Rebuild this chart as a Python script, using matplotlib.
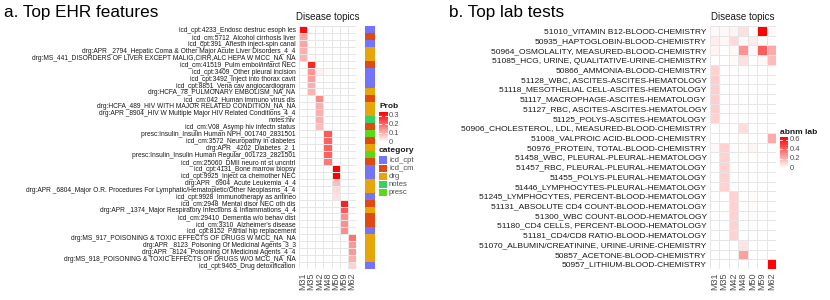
import numpy as np
import matplotlib
matplotlib.use('Agg')
import matplotlib.pyplot as plt
from matplotlib.colors import LinearSegmentedColormap, ListedColormap
from matplotlib.patches import Rectangle

plt.rcParams['font.family'] = ['Liberation Sans', 'DejaVu Sans']

# ---------------- data ----------------
topics = ['M31', 'M35', 'M42', 'M48', 'M50', 'M59', 'M62']

ehr_features = [
    'icd_cpt:4233_Endosc destruc esoph les',
    'icd_cm:5712_Alcohol cirrhosis liver',
    'icd_cpt:391_Anesth inject-spin canal',
    'drg:APR _2794_Hepatic Coma & Other Major Acute Liver Disorders_4_4',
    'drg:MS_441_DISORDERS OF LIVER EXCEPT MALIG,CIRR,ALC HEPA W MCC_NA_NA',
    'icd_cm:41519_Pulm embol/infarct NEC',
    'icd_cpt:3409_Other pleural incision',
    'icd_cpt:3492_Inject into thorax cavit',
    'icd_cpt:8851_Vena cav angiocardiogram',
    'drg:HCFA_78_PULMONARY EMBOLISM_NA_NA',
    'icd_cm:042_Human immuno virus dis',
    'drg:HCFA_489_HIV WITH MAJOR RELATED CONDITION_NA_NA',
    'drg:APR _8904_HIV W Multiple Major HIV Related Conditions_4_4',
    'notes:hiv',
    'icd_cm:V08_Asymp hiv infectn status',
    'presc:Insulin_Insulin Human NPH_001740_2831501',
    'icd_cm:3572_Neuropathy in diabetes',
    'drg:APR _4202_Diabetes_2_1',
    'presc:Insulin_Insulin Human Regular_001723_2821501',
    'icd_cm:25060_DMII neuro nt st uncntrl',
    'icd_cpt:4131_Bone marrow biopsy',
    'icd_cpt:9925_Inject ca chemother NEC',
    'drg:APR _6904_Acute Leukemia_4_4',
    'drg:APR _6804_Major O.R. Procedures For Lymphatic/Hematopietic/Other Neoplasms_4_4',
    'icd_cpt:9928_Immunotherapy as antineo',
    'icd_cm:2948_Mental disor NEC oth dis',
    'drg:APR _1374_Major Respiratory Infections & Inflammations_4_4',
    'icd_cm:29410_Dementia w/o behav dist',
    "icd_cm:3310_Alzheimer's disease",
    'icd_cpt:8152_Partial hip replacement',
    'drg:MS_917_POISONING & TOXIC EFFECTS OF DRUGS W MCC_NA_NA',
    'drg:APR _8123_Poisoning Of Medicinal Agents_3_3',
    'drg:APR _8124_Poisoning Of Medicinal Agents_4_4',
    'drg:MS_918_POISONING & TOXIC EFFECTS OF DRUGS W/O MCC_NA_NA',
    'icd_cpt:9465_Drug detoxification',
]

ehr_category = [
    'icd_cpt', 'icd_cm', 'icd_cpt', 'drg', 'drg',
    'icd_cm', 'icd_cpt', 'icd_cpt', 'icd_cpt', 'drg',
    'icd_cm', 'drg', 'drg', 'notes', 'icd_cm',
    'presc', 'icd_cm', 'drg', 'presc', 'icd_cm',
    'icd_cpt', 'icd_cpt', 'drg', 'drg', 'icd_cpt',
    'icd_cm', 'drg', 'icd_cm', 'icd_cm', 'icd_cpt',
    'drg', 'drg', 'drg', 'drg', 'icd_cpt',
]

ehr_prob = [
    [0.33, 0, 0, 0, 0, 0, 0],
    [0.12, 0, 0, 0, 0, 0, 0],
    [0.12, 0, 0, 0, 0, 0, 0],
    [0.11, 0, 0, 0, 0, 0, 0],
    [0.10, 0, 0, 0, 0, 0, 0],
    [0, 0.29, 0, 0, 0, 0, 0],
    [0, 0.14, 0.02, 0.005, 0.005, 0.005, 0],
    [0, 0.13, 0, 0, 0, 0, 0],
    [0, 0.11, 0, 0, 0, 0, 0],
    [0, 0.10, 0, 0, 0, 0, 0],
    [0, 0, 0.16, 0, 0, 0, 0],
    [0, 0, 0.11, 0, 0, 0, 0],
    [0, 0, 0.11, 0, 0, 0, 0],
    [0, 0, 0.11, 0, 0, 0, 0],
    [0, 0, 0.09, 0, 0, 0, 0],
    [0, 0, 0, 0.22, 0, 0, 0],
    [0, 0, 0, 0.21, 0, 0, 0],
    [0, 0, 0, 0.21, 0, 0, 0],
    [0, 0, 0, 0.21, 0, 0, 0],
    [0, 0, 0, 0.18, 0, 0, 0],
    [0, 0, 0, 0, 0.34, 0, 0],
    [0, 0, 0, 0, 0.34, 0, 0],
    [0, 0, 0, 0, 0.09, 0, 0],
    [0, 0, 0, 0, 0.05, 0, 0],
    [0, 0, 0, 0, 0.04, 0, 0],
    [0, 0, 0, 0, 0, 0.30, 0],
    [0, 0, 0, 0, 0, 0.22, 0],
    [0, 0, 0, 0, 0, 0.15, 0],
    [0, 0, 0, 0, 0, 0.15, 0],
    [0, 0, 0, 0, 0, 0.15, 0],
    [0, 0, 0, 0, 0, 0, 0.19],
    [0, 0, 0, 0, 0, 0, 0.14],
    [0, 0, 0, 0, 0, 0, 0.14],
    [0, 0, 0, 0, 0, 0, 0.11],
    [0, 0, 0, 0, 0, 0, 0.06],
]

lab_tests = [
    '51010_VITAMIN B12-BLOOD-CHEMISTRY',
    '50935_HAPTOGLOBIN-BLOOD-CHEMISTRY',
    '50964_OSMOLALITY, MEASURED-BLOOD-CHEMISTRY',
    '51085_HCG, URINE, QUALITATIVE-URINE-CHEMISTRY',
    '50866_AMMONIA-BLOOD-CHEMISTRY',
    '51128_WBC, ASCITES-ASCITES-HEMATOLOGY',
    '51118_MESOTHELIAL CELL-ASCITES-HEMATOLOGY',
    '51117_MACROPHAGE-ASCITES-HEMATOLOGY',
    '51127_RBC, ASCITES-ASCITES-HEMATOLOGY',
    '51125_POLYS-ASCITES-HEMATOLOGY',
    '50906_CHOLESTEROL, LDL, MEASURED-BLOOD-CHEMISTRY',
    '51008_VALPROIC ACID-BLOOD-CHEMISTRY',
    '50976_PROTEIN, TOTAL-BLOOD-CHEMISTRY',
    '51458_WBC, PLEURAL-PLEURAL-HEMATOLOGY',
    '51457_RBC, PLEURAL-PLEURAL-HEMATOLOGY',
    '51455_POLYS-PLEURAL-HEMATOLOGY',
    '51446_LYMPHOCYTES-PLEURAL-HEMATOLOGY',
    '51245_LYMPHOCYTES, PERCENT-BLOOD-HEMATOLOGY',
    '51131_ABSOLUTE CD4 COUNT-BLOOD-HEMATOLOGY',
    '51300_WBC COUNT-BLOOD-HEMATOLOGY',
    '51180_CD4 CELLS, PERCENT-BLOOD-HEMATOLOGY',
    '51181_CD4/CD8 RATIO-BLOOD-HEMATOLOGY',
    '51070_ALBUMIN/CREATININE, URINE-URINE-CHEMISTRY',
    '50857_ACETONE-BLOOD-CHEMISTRY',
    '50957_LITHIUM-BLOOD-CHEMISTRY',
]

lab_abnm = [
    [0.02, 0.02, 0.03, 0.08, 0, 0.65, 0.02],
    [0.05, 0.02, 0.10, 0.02, 0.05, 0, 0],
    [0.03, 0, 0.02, 0.28, 0.02, 0.42, 0.22],
    [0, 0, 0.01, 0.08, 0, 0.02, 0.18],
    [0.12, 0, 0, 0, 0, 0, 0],
    [0.13, 0, 0, 0, 0, 0, 0],
    [0.13, 0, 0, 0, 0, 0, 0],
    [0.13, 0, 0, 0, 0, 0, 0],
    [0.13, 0, 0, 0, 0, 0, 0],
    [0.12, 0, 0, 0, 0, 0, 0],
    [0, 0, 0, 0.09, 0, 0, 0],
    [0, 0, 0, 0, 0, 0, 0.22],
    [0.02, 0.12, 0, 0.01, 0.03, 0, 0],
    [0, 0.12, 0, 0, 0, 0, 0],
    [0, 0.12, 0, 0, 0, 0, 0],
    [0, 0.12, 0, 0, 0, 0, 0],
    [0, 0.12, 0, 0, 0, 0, 0],
    [0, 0, 0.12, 0, 0.01, 0, 0],
    [0, 0, 0.12, 0, 0.01, 0, 0],
    [0, 0, 0.12, 0, 0.01, 0, 0],
    [0, 0, 0.12, 0, 0.01, 0, 0],
    [0, 0, 0.12, 0, 0, 0, 0],
    [0, 0, 0, 0.07, 0, 0, 0],
    [0, 0, 0, 0.25, 0, 0, 0],
    [0, 0, 0, 0, 0, 0, 0.65],
]

categories = ['icd_cpt', 'icd_cm', 'drg', 'notes', 'presc']
category_colors = ['#7474FA', '#E04A12', '#E6A60A', '#38D060', '#5CD81A']

prob_ticks = [0, 0.1, 0.2, 0.3]
abnm_ticks = [0, 0.2, 0.4, 0.6]

# ---------------- figure ----------------
W, H = 830, 300
fig = plt.figure(figsize=(W / 100, H / 100), dpi=100)

def px_axes(x0, y0, x1, y1):
    return fig.add_axes([x0 / W, 1 - y1 / H, (x1 - x0) / W, (y1 - y0) / H])

cmap = LinearSegmentedColormap.from_list('wr', ['#FFFFFF', '#FF0000'])
grid_col = '#E6E6E6'
txt_col = '#1A1A1A'
tick_col = '#4D4D4D'


def heatmap(ax, data, rows, vmax, fs):
    data = np.array(data, dtype=float)
    nr, nc = data.shape
    ax.pcolormesh(np.arange(nc + 1), np.arange(nr + 1), data, cmap=cmap,
                  vmin=0, vmax=vmax, edgecolors=grid_col, linewidth=0.6)
    ax.set_xlim(0, nc)
    ax.set_ylim(nr, 0)
    ax.set_yticks(np.arange(nr) + 0.5)
    ax.set_yticklabels(rows, fontsize=fs, color=txt_col)
    ax.set_xticks(np.arange(nc) + 0.5)
    ax.set_xticklabels(topics, rotation=90, fontsize=6.5, color=tick_col)
    ax.tick_params(length=0, pad=2.5)
    for s in ax.spines.values():
        s.set_visible(False)
    ax.set_title('Disease topics', fontsize=7, color=txt_col, pad=4)


# panel a
axa = px_axes(299, 26, 356, 269)
heatmap(axa, ehr_prob, ehr_features, 0.34, 4.8)

# category strip
axs = px_axes(365, 26, 375, 269)
cat_idx = np.array([[categories.index(c)] for c in ehr_category])
axs.pcolormesh(np.arange(2), np.arange(len(ehr_category) + 1), cat_idx,
               cmap=ListedColormap(category_colors), vmin=-0.5, vmax=len(categories) - 0.5)
axs.set_ylim(len(ehr_category), 0)
axs.axis('off')

# panel b
axb = px_axes(710, 26, 776, 269)
heatmap(axb, lab_abnm, lab_tests, 0.66, 6.0)

# overlay for titles and legends (pixel coordinates)
ov = fig.add_axes([0, 0, 1, 1], zorder=10)
ov.set_xlim(0, W)
ov.set_ylim(H, 0)
ov.axis('off')
ov.patch.set_alpha(0)

ov.text(4, 12, 'a. Top EHR features', fontsize=12.3, color='black', va='center', ha='left')
ov.text(449, 12, 'b. Top lab tests', fontsize=12.3, color='black', va='center', ha='left')

grad = np.linspace(1, 0, 200).reshape(-1, 1)


def colorbar(x0, x1, y0, y1, vmax, ticks, title, ty):
    ov.text(x0, ty, title, fontsize=6, fontweight='bold', color=txt_col, va='center', ha='left')
    ov.imshow(grad * vmax, cmap=cmap, vmin=0, vmax=vmax, extent=[x0, x1, y1, y0],
              aspect='auto', interpolation='bilinear')
    for t in ticks:
        y = y1 - t / vmax * (y1 - y0)
        ov.plot([x0, x0 + 1.6], [y, y], color='white', lw=0.6)
        ov.plot([x1 - 1.6, x1], [y, y], color='white', lw=0.6)
        ov.text(x1 + 2, y, ('%g' % t), fontsize=5.5, color=tick_col, va='center', ha='left')


colorbar(379, 387, 112, 142, 0.34, prob_ticks, 'Prob', 106)
colorbar(780, 788, 137, 168, 0.66, abnm_ticks, 'abnm lab', 133)

# category legend
ov.text(379, 151, 'category', fontsize=6, fontweight='bold', color=txt_col, va='center', ha='left')
for i, (c, col) in enumerate(zip(categories, category_colors)):
    yc = 160 + i * 8.2
    ov.add_patch(Rectangle((379, yc - 3.6), 8, 7.2, facecolor=col, edgecolor='none'))
    ov.text(389, yc, c, fontsize=5.5, color=tick_col, va='center', ha='left')

ov.set_xlim(0, W)
ov.set_ylim(H, 0)

fig.savefig('out.png', dpi=100)
